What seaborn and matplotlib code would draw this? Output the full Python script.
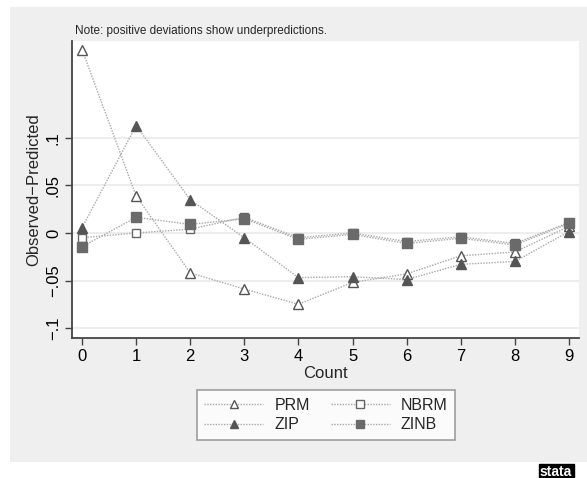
import matplotlib
matplotlib.use("Agg")
import matplotlib.pyplot as plt
from matplotlib.patches import Rectangle
from matplotlib.lines import Line2D
import seaborn as sns
import pandas as pd

counts = [0, 1, 2, 3, 4, 5, 6, 7, 8, 9]
prm = [0.193, 0.039, -0.042, -0.059, -0.075, -0.052, -0.043, -0.024, -0.020, 0.007]
zip_ = [0.0055, 0.113, 0.035, -0.005, -0.047, -0.046, -0.049, -0.033, -0.030, 0.0015]
nbrm = [-0.005, 0.0, 0.004, 0.0165, -0.005, 0.0, -0.009, -0.004, -0.011, 0.011]
zinb = [-0.0145, 0.0165, 0.009, 0.015, -0.0067, -0.0015, -0.011, -0.0056, -0.0126, 0.010]
model_names = ["PRM", "ZIP", "NBRM", "ZINB"]
ytick_vals = [-0.1, -0.05, 0, 0.05, 0.1]
ytick_labels = ["\u2212.1", "\u2212.05", "0", ".05", ".1"]

series = {"PRM": prm, "ZIP": zip_, "NBRM": nbrm, "ZINB": zinb}
df = pd.concat([pd.DataFrame({"Count": counts, "dev": v, "model": k}) for k, v in series.items()])

sns.set_theme(style="white")
plt.rcParams["font.family"] = ["Liberation Sans", "DejaVu Sans"]

W, H = 587, 478
fig = plt.figure(figsize=(W / 100, H / 100), dpi=100, facecolor="white")
fig.patches.append(Rectangle((10 / W, 16 / H), 577 / W, 455 / H, transform=fig.transFigure,
                             facecolor="#efefef", edgecolor="none", zorder=-10))

ax = fig.add_axes([72 / W, 1 - 338 / H, (579 - 72) / W, (338 - 41) / H])
ax.set_facecolor("white")

styles = {
    "PRM": dict(marker="^", mfc="white", mec="#555555", ms=6.5),
    "ZIP": dict(marker="^", mfc="#555555", mec="#555555", ms=6.5),
    "NBRM": dict(marker="s", mfc="white", mec="#666666", ms=6),
    "ZINB": dict(marker="s", mfc="#6a6a6a", mec="#6a6a6a", ms=6.5),
}
draw_order = ["PRM", "NBRM", "ZIP", "ZINB"]
for name in draw_order:
    st = styles[name]
    sns.lineplot(data=df[df["model"] == name], x="Count", y="dev", ax=ax,
                 color="#a8a8a8", linestyle=(0, (1, 1)), linewidth=1.0,
                 marker=st["marker"], markerfacecolor=st["mfc"],
                 markeredgecolor=st["mec"], markersize=st["ms"], markeredgewidth=1.0,
                 legend=False, zorder=3)

ax.set_xlim(-0.185, 9.185)
ax.set_ylim(-0.1105, 0.202)
ax.set_xticks(counts)
ax.set_xticklabels([str(c) for c in counts], fontsize=12)
ax.set_yticks(ytick_vals)
ax.set_yticklabels(ytick_labels, fontsize=12, rotation=90, va="center")
for yv in ytick_vals:
    ax.axhline(yv, color="#eaeaea", linewidth=1.2, zorder=0)
ax.grid(False)
sns.despine(ax=ax)
for s in ["left", "bottom"]:
    ax.spines[s].set_color("#444444")
    ax.spines[s].set_linewidth(1.3)
ax.tick_params(axis="both", direction="out", length=5, width=1, color="#444444",
               left=True, bottom=True, pad=3, labelcolor="black")
ax.set_xlabel("Count", fontsize=12, labelpad=1)
ax.set_ylabel("Observed\u2212Predicted", fontsize=12, labelpad=3)

fig.text(75 / W, 1 - 31 / H, "Note: positive deviations show underpredictions.",
         fontsize=8.5, ha="left", va="center")

legend_order = ["PRM", "ZIP", "NBRM", "ZINB"]  # column-major fill -> rows PRM/NBRM, ZIP/ZINB
handles = []
for name in legend_order:
    st = styles[name]
    handles.append(Line2D([], [], color="#a8a8a8", linestyle=(0, (1, 1)), linewidth=1.0,
                          marker=st["marker"], markerfacecolor=st["mfc"],
                          markeredgecolor=st["mec"], markersize=st["ms"] - 0.5))
leg = fig.legend(handles, legend_order, ncol=2, loc="center", bbox_to_anchor=(326 / W, 1 - 415 / H),
                 fontsize=11.5, frameon=True, fancybox=False, handlelength=3.7,
                 handletextpad=0.7, columnspacing=1.3, labelspacing=0.3, borderpad=0.45)
leg.get_frame().set_edgecolor("#888888")
leg.get_frame().set_linewidth(1.2)
leg.get_frame().set_facecolor("white")

fig.text(540 / W, 1 - 472 / H, "stata", fontsize=10, fontweight="bold", color="white",
         ha="left", va="center",
         bbox=dict(boxstyle="square,pad=0.1", facecolor="black", edgecolor="black"))

fig.savefig("out.png", dpi=100, facecolor="white")
